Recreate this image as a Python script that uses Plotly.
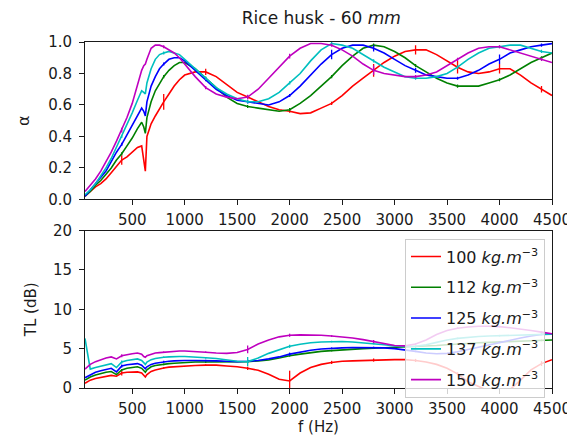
import plotly.graph_objects as go
from plotly.subplots import make_subplots

# ---------------- data ----------------
freq = [50, 100, 150, 200, 250, 300, 350, 400, 450, 500, 550, 590, 610, 625, 640, 680, 720, 760,
        800, 850, 900, 950, 1000, 1100, 1200, 1300, 1400, 1500, 1600, 1700, 1800, 1900, 2000,
        2100, 2200, 2300, 2400, 2500, 2600, 2700, 2800, 2900, 3000, 3100, 3200, 3300, 3400, 3500,
        3600, 3700, 3800, 3900, 4000, 4100, 4200, 4300, 4400, 4500]

densities = ["100", "112", "125", "137", "150"]
colors = ["#ff0000", "#008000", "#0000ff", "#00bfbf", "#bf00bf"]

alpha_100 = [0.02, 0.05, 0.08, 0.10, 0.13, 0.17, 0.21, 0.25, 0.27, 0.30, 0.33, 0.34, 0.26, 0.18, 0.40,
             0.48, 0.53, 0.58, 0.62, 0.67, 0.72, 0.76, 0.79, 0.81, 0.81, 0.78, 0.73, 0.68, 0.65, 0.62,
             0.59, 0.57, 0.56, 0.545, 0.55, 0.58, 0.61, 0.66, 0.72, 0.77, 0.82, 0.87, 0.91, 0.94,
             0.95, 0.95, 0.92, 0.88, 0.84, 0.81, 0.80, 0.81, 0.83, 0.83, 0.79, 0.74, 0.70, 0.66]
alpha_112 = [0.02, 0.05, 0.09, 0.12, 0.16, 0.20, 0.25, 0.29, 0.34, 0.39, 0.45, 0.49, 0.46, 0.42, 0.52,
             0.62, 0.69, 0.74, 0.78, 0.82, 0.85, 0.87, 0.87, 0.83, 0.77, 0.71, 0.65, 0.61, 0.59, 0.58,
             0.57, 0.56, 0.57, 0.61, 0.66, 0.72, 0.78, 0.85, 0.91, 0.96, 0.98, 0.97, 0.94, 0.90,
             0.85, 0.81, 0.77, 0.74, 0.72, 0.72, 0.72, 0.74, 0.76, 0.79, 0.83, 0.87, 0.90, 0.93]
alpha_125 = [0.02, 0.06, 0.10, 0.14, 0.18, 0.24, 0.30, 0.35, 0.41, 0.47, 0.53, 0.58, 0.56, 0.53, 0.62,
             0.72, 0.78, 0.83, 0.86, 0.89, 0.90, 0.90, 0.88, 0.82, 0.76, 0.70, 0.66, 0.63, 0.62, 0.61,
             0.60, 0.62, 0.66, 0.72, 0.79, 0.86, 0.92, 0.96, 0.98, 0.98, 0.96, 0.93, 0.89, 0.85,
             0.82, 0.79, 0.78, 0.77, 0.77, 0.79, 0.82, 0.86, 0.89, 0.93, 0.95, 0.97, 0.98, 0.99]
alpha_137 = [0.03, 0.06, 0.10, 0.15, 0.20, 0.26, 0.33, 0.40, 0.47, 0.55, 0.63, 0.69, 0.68, 0.67, 0.74,
             0.83, 0.89, 0.92, 0.93, 0.94, 0.93, 0.92, 0.89, 0.83, 0.77, 0.71, 0.67, 0.64, 0.62, 0.62,
             0.64, 0.68, 0.74, 0.80, 0.88, 0.95, 0.99, 0.98, 0.96, 0.92, 0.88, 0.84, 0.81, 0.78,
             0.77, 0.77, 0.78, 0.80, 0.84, 0.89, 0.93, 0.96, 0.97, 0.98, 0.98, 0.96, 0.94, 0.93]
alpha_150 = [0.05, 0.09, 0.13, 0.18, 0.24, 0.30, 0.37, 0.44, 0.52, 0.61, 0.73, 0.82, 0.85, 0.86, 0.89,
             0.96, 0.98, 0.98, 0.97, 0.95, 0.93, 0.90, 0.86, 0.78, 0.71, 0.67, 0.65, 0.64, 0.65, 0.70,
             0.77, 0.84, 0.91, 0.96, 0.99, 0.99, 0.98, 0.95, 0.91, 0.86, 0.82, 0.80, 0.79, 0.78,
             0.78, 0.79, 0.81, 0.85, 0.89, 0.93, 0.96, 0.97, 0.97, 0.95, 0.93, 0.91, 0.89, 0.87]

tl_100 = [0.6, 1.0, 1.2, 1.35, 1.45, 1.6, 1.5, 1.9, 2.0, 2.05, 2.05, 1.9, 1.6, 1.4, 1.7, 2.1, 2.3, 2.45,
          2.55, 2.65, 2.7, 2.75, 2.8, 2.85, 2.9, 2.9, 2.8, 2.7, 2.5, 2.25, 1.75, 1.1, 0.9, 1.9, 2.6,
          3.0, 3.25, 3.4, 3.45, 3.5, 3.55, 3.55, 3.6, 3.6, 3.5, 3.3, 3.0, 2.5, 1.8, 0.8, 0.2, -0.4,
          -0.6, -0.2, 1.0, 2.3, 3.1, 3.6]
tl_112 = [1.0, 1.4, 1.65, 1.85, 2.0, 2.1, 1.7, 2.3, 2.5, 2.6, 2.7, 2.5, 2.2, 2.0, 2.3, 2.7, 2.85, 2.95,
          3.0, 3.1, 3.15, 3.2, 3.25, 3.3, 3.3, 3.3, 3.3, 3.3, 3.35, 3.45, 3.55, 3.8, 4.1, 4.3, 4.5,
          4.65, 4.75, 4.85, 4.95, 5.0, 5.05, 5.1, 5.15, 5.2, 5.25, 5.3, 5.4, 5.5, 5.6, 5.7, 5.75,
          5.8, 5.85, 5.9, 5.95, 6.0, 6.05, 6.1]
tl_125 = [1.3, 1.7, 2.0, 2.2, 2.35, 2.5, 2.05, 2.8, 2.95, 3.05, 3.1, 2.9, 2.6, 2.45, 2.7, 3.0, 3.15,
          3.25, 3.35, 3.4, 3.45, 3.5, 3.5, 3.5, 3.5, 3.45, 3.4, 3.35, 3.4, 3.5, 3.7, 3.95, 4.3, 4.55,
          4.8, 4.95, 5.05, 5.1, 5.15, 5.15, 5.15, 5.1, 5.0, 4.85, 4.65, 4.45, 4.35, 4.4, 4.6, 4.9,
          5.2, 5.5, 5.8, 6.1, 6.35, 6.6, 6.8, 6.9]
tl_137 = [6.3, 2.4, 2.6, 2.8, 2.95, 3.1, 2.6, 3.3, 3.5, 3.6, 3.7, 3.5, 3.15, 3.0, 3.3, 3.6, 3.75, 3.85,
          3.9, 3.95, 4.0, 4.0, 4.0, 3.95, 3.85, 3.75, 3.6, 3.4, 3.35, 3.8, 4.4, 4.9, 5.3, 5.55, 5.75,
          5.85, 5.9, 5.9, 5.85, 5.75, 5.65, 5.5, 5.35, 5.25, 5.3, 5.5, 5.8, 6.1, 6.3, 6.45, 6.55,
          6.6, 6.65, 6.7, 6.75, 6.8, 6.85, 6.85]
tl_150 = [2.4, 3.0, 3.35, 3.6, 3.8, 3.95, 3.7, 4.1, 4.25, 4.35, 4.45, 4.3, 4.0, 3.9, 4.1, 4.3, 4.45,
          4.5, 4.55, 4.6, 4.65, 4.7, 4.7, 4.65, 4.55, 4.45, 4.4, 4.5, 4.9, 5.6, 6.1, 6.5, 6.7, 6.75,
          6.75, 6.7, 6.6, 6.5, 6.35, 6.15, 5.9, 5.6, 5.4, 5.35, 5.6, 6.1, 6.8, 7.3, 7.6, 7.75, 7.85,
          7.85, 7.8, 7.65, 7.5, 7.3, 7.1, 6.9]

# error bars (every 400 Hz)
err_freq = [400, 800, 1200, 1600, 2000, 2400, 2800, 3200, 3600, 4000, 4400]
alpha_err = {
    "100": [0.03, 0.05, 0.02, 0.01, 0.01, 0.01, 0.04, 0.03, 0.04, 0.03, 0.02],
    "112": [0.01, 0.01, 0.01, 0.01, 0.01, 0.01, 0.01, 0.01, 0.01, 0.01, 0.01],
    "125": [0.01, 0.01, 0.01, 0.01, 0.01, 0.03, 0.02, 0.015, 0.01, 0.03, 0.01],
    "137": [0.01, 0.01, 0.01, 0.01, 0.01, 0.01, 0.01, 0.01, 0.01, 0.01, 0.01],
    "150": [0.015, 0.01, 0.01, 0.015, 0.015, 0.01, 0.03, 0.01, 0.01, 0.01, 0.01],
}
tl_err = {
    "100": [0.3, 0.1, 0.1, 0.2, 1.3, 0.2, 0.2, 0.2, 0.2, 0.6, 0.3],
    "112": [0.1, 0.1, 0.1, 0.1, 0.1, 0.1, 0.1, 0.1, 0.1, 0.1, 0.1],
    "125": [0.2, 0.1, 0.1, 0.2, 0.2, 0.1, 0.1, 0.1, 0.1, 0.1, 0.1],
    "137": [0.2, 0.1, 0.1, 0.6, 0.2, 0.1, 0.1, 0.1, 0.1, 0.1, 0.1],
    "150": [0.2, 0.1, 0.1, 0.5, 0.2, 0.1, 0.2, 0.1, 0.1, 0.1, 0.1],
}

alphas = [alpha_100, alpha_112, alpha_125, alpha_137, alpha_150]
tls = [tl_100, tl_112, tl_125, tl_137, tl_150]

# ---------------- figure ----------------
FONT = "DejaVu Sans"
TXT = "#1a1a1a"
fig = make_subplots(rows=2, cols=1, shared_xaxes=False, vertical_spacing=0.09)

idx = [freq.index(f) for f in err_freq]
for d, c, a, t in zip(densities, colors, alphas, tls):
    name = f"{d} <i>kg.m</i><sup>−3</sup>"
    fig.add_trace(go.Scatter(x=freq, y=a, mode="lines", line=dict(color=c, width=1.6),
                             name=name, legendgroup=d, showlegend=False), row=1, col=1)
    fig.add_trace(go.Scatter(x=err_freq, y=[a[i] for i in idx], mode="markers",
                             marker=dict(size=1, color=c),
                             error_y=dict(type="data", array=alpha_err[d], color=c, thickness=1.3, width=0),
                             showlegend=False, hoverinfo="skip"), row=1, col=1)
    fig.add_trace(go.Scatter(x=freq, y=t, mode="lines", line=dict(color=c, width=1.6),
                             name=name, legendgroup=d, showlegend=True), row=2, col=1)
    fig.add_trace(go.Scatter(x=err_freq, y=[t[i] for i in idx], mode="markers",
                             marker=dict(size=1, color=c),
                             error_y=dict(type="data", array=tl_err[d], color=c, thickness=1.3, width=0),
                             showlegend=False, hoverinfo="skip"), row=2, col=1)

axis_common = dict(range=[50, 4500], tickvals=[500, 1000, 1500, 2000, 2500, 3000, 3500, 4000, 4500],
                   showline=True, linecolor=TXT, linewidth=1, mirror=True, ticks="outside",
                   ticklen=5, tickcolor=TXT, showgrid=False, zeroline=False, ticklabelstandoff=2,
                   tickfont=dict(family=FONT, size=15, color=TXT))
fig.update_xaxes(**axis_common)
fig.update_xaxes(title=dict(text="f (Hz)", font=dict(family=FONT, size=15, color=TXT), standoff=2), row=2, col=1)

fig.update_yaxes(showline=True, linecolor=TXT, linewidth=1, mirror=True, ticks="outside",
                 ticklen=5, tickcolor=TXT, showgrid=False, zeroline=False, ticklabelstandoff=4,
                 tickfont=dict(family=FONT, size=15, color=TXT))
fig.update_yaxes(range=[0, 1], tickvals=[0, 0.2, 0.4, 0.6, 0.8, 1.0], tickformat=".1f",
                 title=dict(text="α", font=dict(family=FONT, size=16, color=TXT), standoff=14),
                 domain=[0.545, 1.0], row=1, col=1)
fig.update_yaxes(range=[0, 20], tickvals=[0, 5, 10, 15, 20],
                 title=dict(text="TL (dB)", font=dict(family=FONT, size=15, color=TXT), standoff=12),
                 domain=[0.0, 0.455], row=2, col=1)

fig.update_layout(
    width=575, height=435,
    margin=dict(l=77, r=22, t=34, b=47),
    paper_bgcolor="white", plot_bgcolor="white",
    font=dict(family=FONT, size=15, color=TXT),
    title=dict(text="Rice husk - 60 <i>mm</i>", x=0.545, xanchor="center", y=0.978, yanchor="middle",
               font=dict(family=FONT, size=17, color=TXT)),
    legend=dict(x=0.985, xanchor="right", y=0.432, yanchor="top",
                bgcolor="rgba(255,255,255,0.8)", bordercolor="#cccccc", borderwidth=1,
                font=dict(family=FONT, size=16, color=TXT), tracegroupgap=7, itemwidth=30),
    showlegend=True,
)

fig.write_html("out.html")
